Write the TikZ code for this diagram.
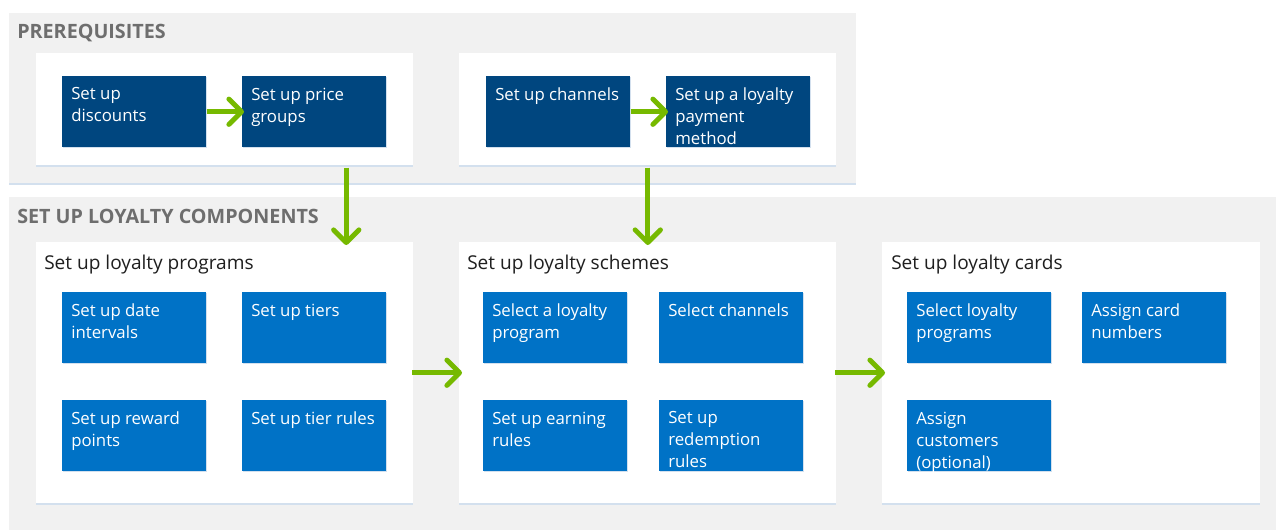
\documentclass[tikz,border=0pt]{standalone}
\usepackage{fontspec}
\setmainfont{Open Sans}
\usetikzlibrary{arrows.meta,calc,shadows}

\definecolor{navy}{HTML}{00467F}
\definecolor{azure}{HTML}{0072C6}
\definecolor{leaf}{HTML}{76B900}
\definecolor{panelgray}{HTML}{F1F1F1}
\definecolor{titlegray}{HTML}{6E6E6E}
\definecolor{shade}{HTML}{D3E0EE}

% top-aligned text block inside a task box
\newcommand{\boxtxt}[1]{\begin{minipage}[c][36pt][t]{94.5pt}\raggedright #1\end{minipage}}

\tikzset{
  panel/.style={fill=white, anchor=north west, inner sep=0pt,
    drop shadow={shadow xshift=0pt, shadow yshift=-1.2pt, fill=shade, opacity=1}},
  task/.style={anchor=north west, text=white, inner xsep=6.75pt, inner ysep=8.6pt,
    minimum width=108pt, minimum height=53.25pt,
    font=\fontsize{12.6}{16.5}\selectfont,
    drop shadow={shadow xshift=0.6pt, shadow yshift=-0.9pt, fill=shade, opacity=1}},
  oldtask/.style={task, fill=navy},
  newtask/.style={task, fill=azure},
  flow/.style={leaf, line width=3.7pt,
    -{Straight Barb[length=9.5pt, width=19pt, line cap=round, line join=round]}},
  heading/.style={anchor=base west, inner sep=0pt, text=titlegray,
    font=\bfseries\fontsize{14.8}{17}\selectfont},
  subhead/.style={anchor=base west, inner sep=0pt, text=black!88,
    font=\fontsize{14.3}{17}\selectfont},
}

\begin{document}
\begin{tikzpicture}[x=0.75pt, y=-0.75pt]
  \useasboundingbox (0,0) rectangle (1277,531);

  % prerequisites
  \fill[panelgray, drop shadow={shadow xshift=0pt, shadow yshift=-1.2pt, fill=shade, opacity=1}]
    (9,13) rectangle (856,183);
  \node[heading] (pretitle) at (17,39) {PREREQUISITES};
  \node[panel, minimum width=282.75pt, minimum height=84pt] (pre1) at (36,53) {};
  \node[panel, minimum width=282.75pt, minimum height=84pt] (pre2) at (459,53) {};
  \node[oldtask] (disc) at (62,76) {\boxtxt{Set up\\discounts}};
  \node[oldtask] (price) at (242,76) {\boxtxt{Set up price\\groups}};
  \node[oldtask] (chan) at (486,76) {\boxtxt{Set up channels}};
  \node[oldtask] (pay) at (666,76) {\boxtxt{Set up a loyalty\\payment\\method}};

  % loyalty components
  \fill[panelgray] (9,197) rectangle (1276,530);
  \node[heading] (comptitle) at (17,223) {SET UP LOYALTY COMPONENTS};
  \node[panel, minimum width=282.75pt, minimum height=195.75pt] (prog) at (36,242) {};
  \node[panel, minimum width=282.75pt, minimum height=195.75pt] (sch) at (459,242) {};
  \node[panel, minimum width=283.5pt, minimum height=195.75pt] (card) at (882,242) {};
  \node[subhead] at (44,269) {Set up loyalty programs};
  \node[subhead] at (467,269) {Set up loyalty schemes};
  \node[subhead] at (891,269) {Set up loyalty cards};

  \node[newtask] (dates) at (62,292) {\boxtxt{Set up date\\intervals}};
  \node[newtask] (tiers) at (242,292) {\boxtxt{Set up tiers}};
  \node[newtask] (points) at (62,400) {\boxtxt{Set up reward\\points}};
  \node[newtask] (tierrules) at (242,400) {\boxtxt{Set up tier rules}};

  \node[newtask] (selprog) at (483,292) {\boxtxt{Select a loyalty\\program}};
  \node[newtask] (selchan) at (659,292) {\boxtxt{Select channels}};
  \node[newtask] (earn) at (483,400) {\boxtxt{Set up earning\\rules}};
  \node[newtask] (redeem) at (659,400) {\boxtxt{Set up\\redemption\\rules}};

  \node[newtask] (cardprog) at (907,292) {\boxtxt{Select loyalty\\programs}};
  \node[newtask] (cardnum) at (1082,292) {\boxtxt{Assign card\\numbers}};
  \node[newtask] (cust) at (907,400) {\boxtxt{Assign\\customers\\(optional)}};

  % flow arrows
  \draw[flow, shorten >=-1.5pt] (disc) -- (price);
  \draw[flow, shorten >=-1.5pt] (chan) -- (pay);
  \draw[flow, shorten <=1.5pt, shorten >=-2.25pt]
    ($(pre1.south)+(121.5,0)$) -- ($(prog.north)+(121.5,0)$);
  \draw[flow, shorten <=1.5pt, shorten >=-2.25pt] (pre2.south) -- (sch.north);
  \draw[flow, shorten <=-1pt, shorten >=-2.25pt] (prog) -- (sch);
  \draw[flow, shorten <=-1pt, shorten >=-2.25pt] (sch) -- (card);
\end{tikzpicture}
\end{document}
